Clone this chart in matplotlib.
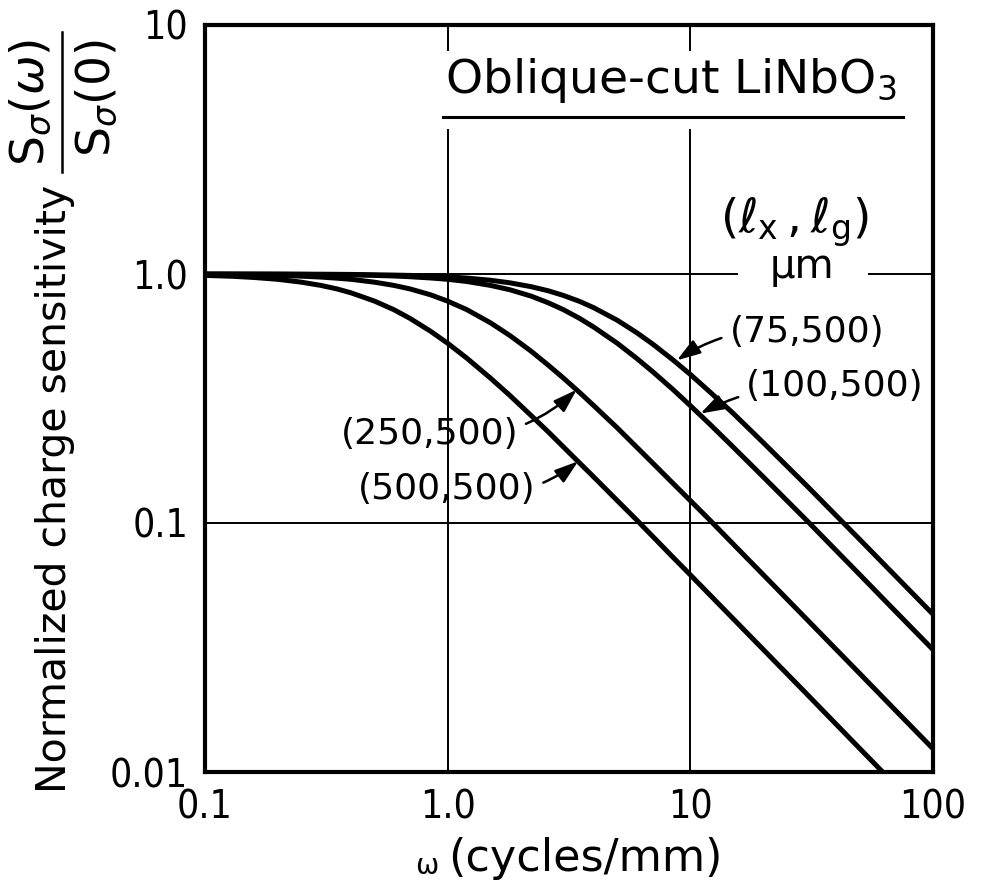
import matplotlib
matplotlib.use("Agg")
import matplotlib.pyplot as plt
from matplotlib.ticker import NullLocator
from matplotlib.lines import Line2D
from matplotlib.patches import Rectangle
from matplotlib import font_manager

plt.rcParams['font.family'] = ['DejaVu Sans']

# ---- data ----
omega = [0.1, 0.13, 0.16, 0.2, 0.25, 0.3, 0.35, 0.4, 0.5, 0.6, 0.7, 0.85, 1.0,
         1.2, 1.5, 1.8, 2.2, 2.6, 3.0, 3.5, 4, 5, 6, 7, 8.5, 10, 12, 15, 20,
         30, 50, 70, 100]
s_75_500 = [1.000, 1.000, 0.999, 0.999, 0.998, 0.998, 0.997, 0.996, 0.993, 0.990,
            0.987, 0.981, 0.974, 0.963, 0.944, 0.922, 0.890, 0.856, 0.820, 0.776,
            0.732, 0.652, 0.582, 0.523, 0.451, 0.395, 0.337, 0.276, 0.210, 0.142,
            0.0857, 0.0613, 0.0430]
s_100_500 = [0.999, 0.999, 0.999, 0.998, 0.997, 0.995, 0.994, 0.992, 0.987, 0.982,
             0.975, 0.964, 0.952, 0.933, 0.900, 0.865, 0.816, 0.766, 0.719, 0.663,
             0.612, 0.527, 0.459, 0.405, 0.343, 0.296, 0.250, 0.202, 0.153, 0.103,
             0.0619, 0.0442, 0.0310]
s_250_500 = [0.997, 0.995, 0.992, 0.987, 0.980, 0.972, 0.962, 0.952, 0.927, 0.900,
             0.871, 0.825, 0.778, 0.719, 0.637, 0.567, 0.491, 0.430, 0.382, 0.334,
             0.296, 0.241, 0.202, 0.174, 0.144, 0.123, 0.103, 0.0824, 0.0619,
             0.0413, 0.0248, 0.0177, 0.0124]
s_500_500 = [0.987, 0.979, 0.968, 0.952, 0.927, 0.900, 0.871, 0.840, 0.778, 0.719,
             0.663, 0.589, 0.527, 0.459, 0.382, 0.326, 0.271, 0.232, 0.202, 0.174,
             0.153, 0.123, 0.103, 0.0883, 0.0727, 0.0619, 0.0516, 0.0413, 0.0310,
             0.0207, 0.0124, 0.00886, 0.0062]

series = [("(75,500)", s_75_500), ("(100,500)", s_100_500),
          ("(250,500)", s_250_500), ("(500,500)", s_500_500)]

x_ticks = [0.1, 1.0, 10, 100]
x_ticklabels = ["0.1", "1.0", "10", "100"]
y_ticks = [0.01, 0.1, 1.0, 10]
y_ticklabels = ["0.01", "0.1", "1.0", "10"]

# annotation label, text anchor (data), arrow tip (data)
ann_labels = ["(75,500)", "(100,500)", "(250,500)", "(500,500)"]
ann_text_xy = [(14.5, 0.585), (17.0, 0.355), (1.95, 0.228), (2.3, 0.137)]
ann_tip_xy = [(8.8, 0.45), (11.0, 0.275), (3.4, 0.343), (3.45, 0.177)]
ann_ha = ["left", "left", "right", "right"]
ann_rad = [0.2, 0.15, 0.25, 0.25]

W, H = 981, 888

# narrow font for the tick numbers if available
names = {f.name for f in font_manager.fontManager.ttflist}
if 'Liberation Sans Narrow' in names:
    tick_fp = font_manager.FontProperties(family='Liberation Sans Narrow', size=30)
else:
    tick_fp = font_manager.FontProperties(family='DejaVu Sans', stretch='condensed', size=28)

# ---- figure ----
fig = plt.figure(figsize=(W/100, H/100), dpi=100)
ax = fig.add_axes([205/W, 1-772/H, (933-205)/W, (772-25)/H])
ax.set_xscale('log')
ax.set_yscale('log')
ax.set_xlim(0.1, 100)
ax.set_ylim(0.01, 10)

for sp in ax.spines.values():
    sp.set_linewidth(3.0)
    sp.set_zorder(5)

ax.set_xticks(x_ticks)
ax.set_xticklabels(x_ticklabels, fontproperties=tick_fp)
ax.set_yticks(y_ticks)
ax.set_yticklabels(y_ticklabels, fontproperties=tick_fp)
ax.xaxis.set_minor_locator(NullLocator())
ax.yaxis.set_minor_locator(NullLocator())
ax.tick_params(axis='both', length=0, pad=12)
ax.grid(True, which='major', color='black', linewidth=1.4, zorder=1)
ax.set_axisbelow(True)

for name, vals in series:
    ax.plot(omega, vals, color='black', linewidth=3.6, solid_capstyle='butt', zorder=3)

# white gaps in the grid behind the title and the unit
ax.add_artist(Rectangle((437, H-129), 480, 78, transform=None, facecolor='white',
                        edgecolor='none', zorder=1.5))
ax.add_artist(Rectangle((738, H-285), 130, 22, transform=None, facecolor='white',
                        edgecolor='none', zorder=1.5))

# title with underline
ax.text(671, H-80, "Oblique-cut LiNbO$_3$", transform=None, fontsize=34,
        ha='center', va='center', zorder=2)
ax.add_artist(Line2D([443, 903], [H-117, H-117], transform=None,
                     color='black', linewidth=2.2, zorder=2.5))
ax.text(794, H-222, r"$(\ell_{\rm x}\,,\ell_{\rm g})$", transform=None, fontsize=34,
        ha='center', va='center', zorder=2)
ax.text(802, H-267, "μm", transform=None, fontsize=29, ha='center', va='center',
        zorder=2)

for lab, txy, tip, ha, rad in zip(ann_labels, ann_text_xy, ann_tip_xy, ann_ha, ann_rad):
    ax.annotate(lab, xy=tip, xytext=txy, fontsize=26, ha=ha, va='center',
                zorder=4,
                arrowprops=dict(arrowstyle='-|>,head_length=0.55,head_width=0.18',
                                color='black', linewidth=1.8,
                                connectionstyle=f"arc3,rad={rad}",
                                shrinkA=4, shrinkB=0))

# axis labels
fig.text(55/W, 1-489/H, "Normalized charge sensitivity", rotation=90,
         fontsize=29.5, ha='center', va='center')
fig.text(31/W, 1-102/H, r"$\mathrm{S}_\sigma(\omega)$", rotation=90,
         fontsize=34, ha='center', va='center')
fig.text(97/W, 1-98/H, r"$\mathrm{S}_\sigma(0)$", rotation=90,
         fontsize=34, ha='center', va='center')
fig.add_artist(Line2D([62/W, 62/W], [1-32/H, 1-172/H], transform=fig.transFigure,
                      color='black', linewidth=1.8))
fig.text(427/W, 1-866/H, "ω", fontsize=20, ha='center', va='center')
fig.text(585/W, 1-858/H, "(cycles/mm)", fontsize=32, ha='center', va='center')

fig.savefig("out.png", dpi=100, facecolor='white')
